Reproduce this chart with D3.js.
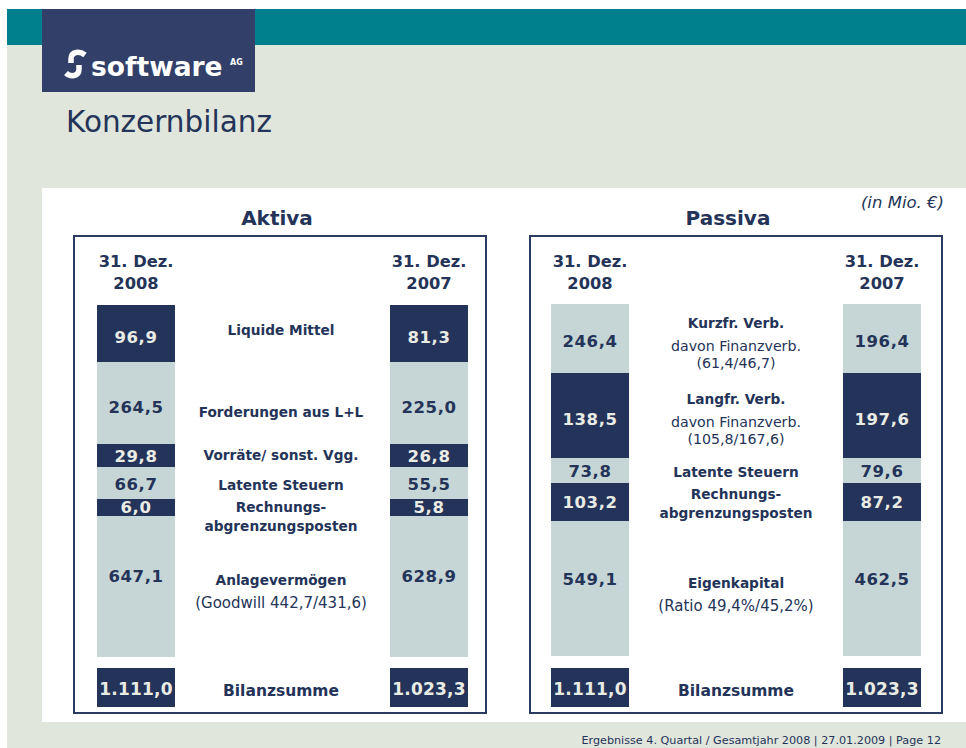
<!DOCTYPE html>
<html>
<head>
<meta charset="utf-8">
<script src="https://cdn.jsdelivr.net/npm/d3@7"></script>
<style>
  body { margin: 0; background: #ffffff; }
  svg { display: block; }
  text { font-family: "DejaVu Sans", "Verdana", sans-serif; }
</style>
</head>
<body>
<svg id="chart" width="966" height="748"></svg>
<script>
// ---------------- DATA ----------------
const titleText = "Konzernbilanz";
const unitText = "(in Mio. €)";
const footerText = "Ergebnisse 4. Quartal / Gesamtjahr 2008 | 27.01.2009 | Page 12";
const columnDateLabel = "31. Dez.";
const years = ["2008", "2007"];

const aktivaLabels = ["Liquide Mittel", "Forderungen aus L+L", "Vorräte/ sonst. Vgg.", "Latente Steuern", "Rechnungs-\nabgrenzungsposten", "Anlagevermögen"];
const aktivaNotes  = ["", "", "", "", "", "(Goodwill 442,7/431,6)"];
const aktiva2008   = [96.9, 264.5, 29.8, 66.7, 6.0, 647.1];
const aktiva2007   = [81.3, 225.0, 26.8, 55.5, 5.8, 628.9];

const passivaLabels = ["Kurzfr. Verb.", "Langfr. Verb.", "Latente Steuern", "Rechnungs-\nabgrenzungsposten", "Eigenkapital"];
const passivaNotes  = ["davon Finanzverb.\n(61,4/46,7)", "davon Finanzverb.\n(105,8/167,6)", "", "", "(Ratio 49,4%/45,2%)"];
const passiva2008   = [246.4, 138.5, 73.8, 103.2, 549.1];
const passiva2007   = [196.4, 197.6, 79.6, 87.2, 462.5];

const totalLabel = "Bilanzsumme";
const totals2008 = [1111.0];
const totals2007 = [1023.3];

// ---------------- LAYOUT / STYLE ----------------
const C = {
  teal: "#00808d", bg: "#e1e6dd", logo: "#313f69", navy: "#24335a",
  light: "#c6d6d6", text: "#243358", onDark: "#e9ece4", border: "#2c3b62"
};
const panels = [
  { title: "Aktiva", labels: aktivaLabels, notes: aktivaNotes, v2008: aktiva2008, v2007: aktiva2007,
    box: [74, 236, 486, 713], cols: [97, 390], mid: 281, titleX: 277,
    rowUnits: [57, 82, 23, 32, 17, 141], top: 305, bottom: 657,
    dark: [true, false, true, false, true, false],
    valueOff: [38, 51, 18, 23, 14, 66], labelOff: [30, 55, 16, 23, 13, 69] },
  { title: "Passiva", labels: passivaLabels, notes: passivaNotes, v2008: passiva2008, v2007: passiva2007,
    box: [530, 236, 942, 713], cols: [551, 843], mid: 736, titleX: 728,
    rowUnits: [69, 85, 25, 38, 135], top: 304, bottom: 656,
    dark: [false, true, false, true, false],
    valueOff: [43, 52, 19, 25, 64], labelOff: [24, 31, 19, 16, 67] }
];
const barW = 78;
const totalRow = [668, 707];

const de = d3.formatLocale({ decimal: ",", thousands: ".", grouping: [3], currency: ["", " €"] });
const fmt = de.format(",.1f");

const svg = d3.select("#chart");

// background
svg.append("rect").attr("x", 7).attr("y", 9).attr("width", 959).attr("height", 739).attr("fill", C.bg);
svg.append("rect").attr("x", 7).attr("y", 9).attr("width", 959).attr("height", 36).attr("fill", C.teal);
svg.append("rect").attr("x", 42).attr("y", 9).attr("width", 213).attr("height", 83).attr("fill", C.logo);
svg.append("rect").attr("x", 42).attr("y", 188).attr("width", 924).attr("height", 534).attr("fill", "#ffffff");

// logo
const logo = svg.append("g");
logo.append("path").attr("d", "M85,55 C80,51 71,51 71,59 L71,63")
  .attr("fill", "none").attr("stroke", "#ffffff").attr("stroke-width", 5.5).attr("stroke-linecap", "butt");
logo.append("path").attr("d", "M79,65 L79,69 C79,77 70,77 66,73")
  .attr("fill", "none").attr("stroke", "#ffffff").attr("stroke-width", 5.5).attr("stroke-linecap", "butt");
logo.append("text").attr("x", 91).attr("y", 76).attr("fill", "#ffffff")
  .attr("font-size", 26.5).attr("font-weight", "bold").text("software");
logo.append("text").attr("x", 230).attr("y", 65).attr("fill", "#ffffff")
  .attr("font-size", 8).attr("font-weight", "bold").text("AG");

// title
svg.append("text").attr("x", 66).attr("y", 132).attr("fill", C.text)
  .attr("font-size", 29.5).text(titleText);

// unit
svg.append("text").attr("x", 944).attr("y", 208).attr("fill", C.text)
  .attr("text-anchor", "end").attr("font-size", 16.5).attr("font-style", "italic").text(unitText);

// footer
svg.append("text").attr("x", 941).attr("y", 744).attr("fill", C.text)
  .attr("text-anchor", "end").attr("font-size", 11.2).text(footerText);

panels.forEach(p => {
  const g = svg.append("g");
  // panel title
  g.append("text").attr("x", p.titleX).attr("y", 225).attr("text-anchor", "middle")
    .attr("fill", C.text).attr("font-size", 20).attr("font-weight", "bold").text(p.title);
  // box
  g.append("rect").attr("x", p.box[0]).attr("y", p.box[1])
    .attr("width", p.box[2] - p.box[0]).attr("height", p.box[3] - p.box[1])
    .attr("fill", "none").attr("stroke", C.border).attr("stroke-width", 2);

  const x = d3.scaleOrdinal().domain(years).range(p.cols);
  const cum = [0];
  p.rowUnits.forEach((u, i) => cum.push(cum[i] + u));
  const y = d3.scaleLinear().domain([0, cum[cum.length - 1]]).range([p.top, p.bottom]);

  // column headers
  years.forEach(yr => {
    const cx = x(yr) + barW / 2;
    const t = g.append("text").attr("text-anchor", "middle").attr("fill", C.text)
      .attr("font-size", 16.3).attr("font-weight", "bold");
    t.append("tspan").attr("x", cx).attr("y", 267).text(columnDateLabel);
    t.append("tspan").attr("x", cx).attr("y", 289).text(yr);
  });

  const rows = p.labels.map((lab, i) => ({
    i, label: lab, note: p.notes[i], dark: p.dark[i],
    y0: y(cum[i]), y1: y(cum[i + 1]),
    vals: { "2008": p.v2008[i], "2007": p.v2007[i] }
  }));

  years.forEach(yr => {
    const col = g.append("g");
    col.selectAll("rect").data(rows).join("rect")
      .attr("x", x(yr)).attr("y", d => d.y0)
      .attr("width", barW).attr("height", d => d.y1 - d.y0)
      .attr("fill", d => d.dark ? C.navy : C.light);
    col.selectAll("text").data(rows).join("text")
      .attr("x", x(yr) + barW / 2).attr("y", d => d.y0 + p.valueOff[d.i])
      .attr("text-anchor", "middle").attr("font-size", 16.5).attr("font-weight", "bold")
      .attr("letter-spacing", 0.6)
      .attr("fill", d => d.dark ? C.onDark : C.text)
      .text(d => fmt(d.vals[yr]));
  });

  // middle labels
  rows.forEach(d => {
    const t = g.append("text").attr("text-anchor", "middle").attr("fill", C.text);
    let yy = d.y0 + p.labelOff[d.i];
    d.label.split("\n").forEach((ln, k) => {
      if (k > 0) yy += 19;
      t.append("tspan").attr("x", p.mid).attr("y", yy)
        .attr("font-size", 13.7).attr("font-weight", "bold").text(ln);
    });
    if (d.note) {
      const noteLines = d.note.split("\n");
      noteLines.forEach((ln, k) => {
        yy += (k === 0 ? 23 : 16.5);
        t.append("tspan").attr("x", p.mid).attr("y", yy)
          .attr("font-size", noteLines.length > 1 ? 14.2 : 15).text(ln);
      });
    }
  });

  // totals
  const totals = { "2008": totals2008[0], "2007": totals2007[0] };
  years.forEach(yr => {
    g.append("rect").attr("x", x(yr)).attr("y", totalRow[0])
      .attr("width", barW).attr("height", totalRow[1] - totalRow[0]).attr("fill", C.navy);
    g.append("text").attr("x", x(yr) + barW / 2).attr("y", 695)
      .attr("text-anchor", "middle").attr("font-size", 17).attr("font-weight", "bold")
      .attr("letter-spacing", 0.2)
      .attr("fill", C.onDark).text(fmt(totals[yr]));
  });
  g.append("text").attr("x", p.mid).attr("y", 696).attr("text-anchor", "middle")
    .attr("fill", C.text).attr("font-size", 15.5).attr("font-weight", "bold").text(totalLabel);
});
</script>
</body>
</html>
